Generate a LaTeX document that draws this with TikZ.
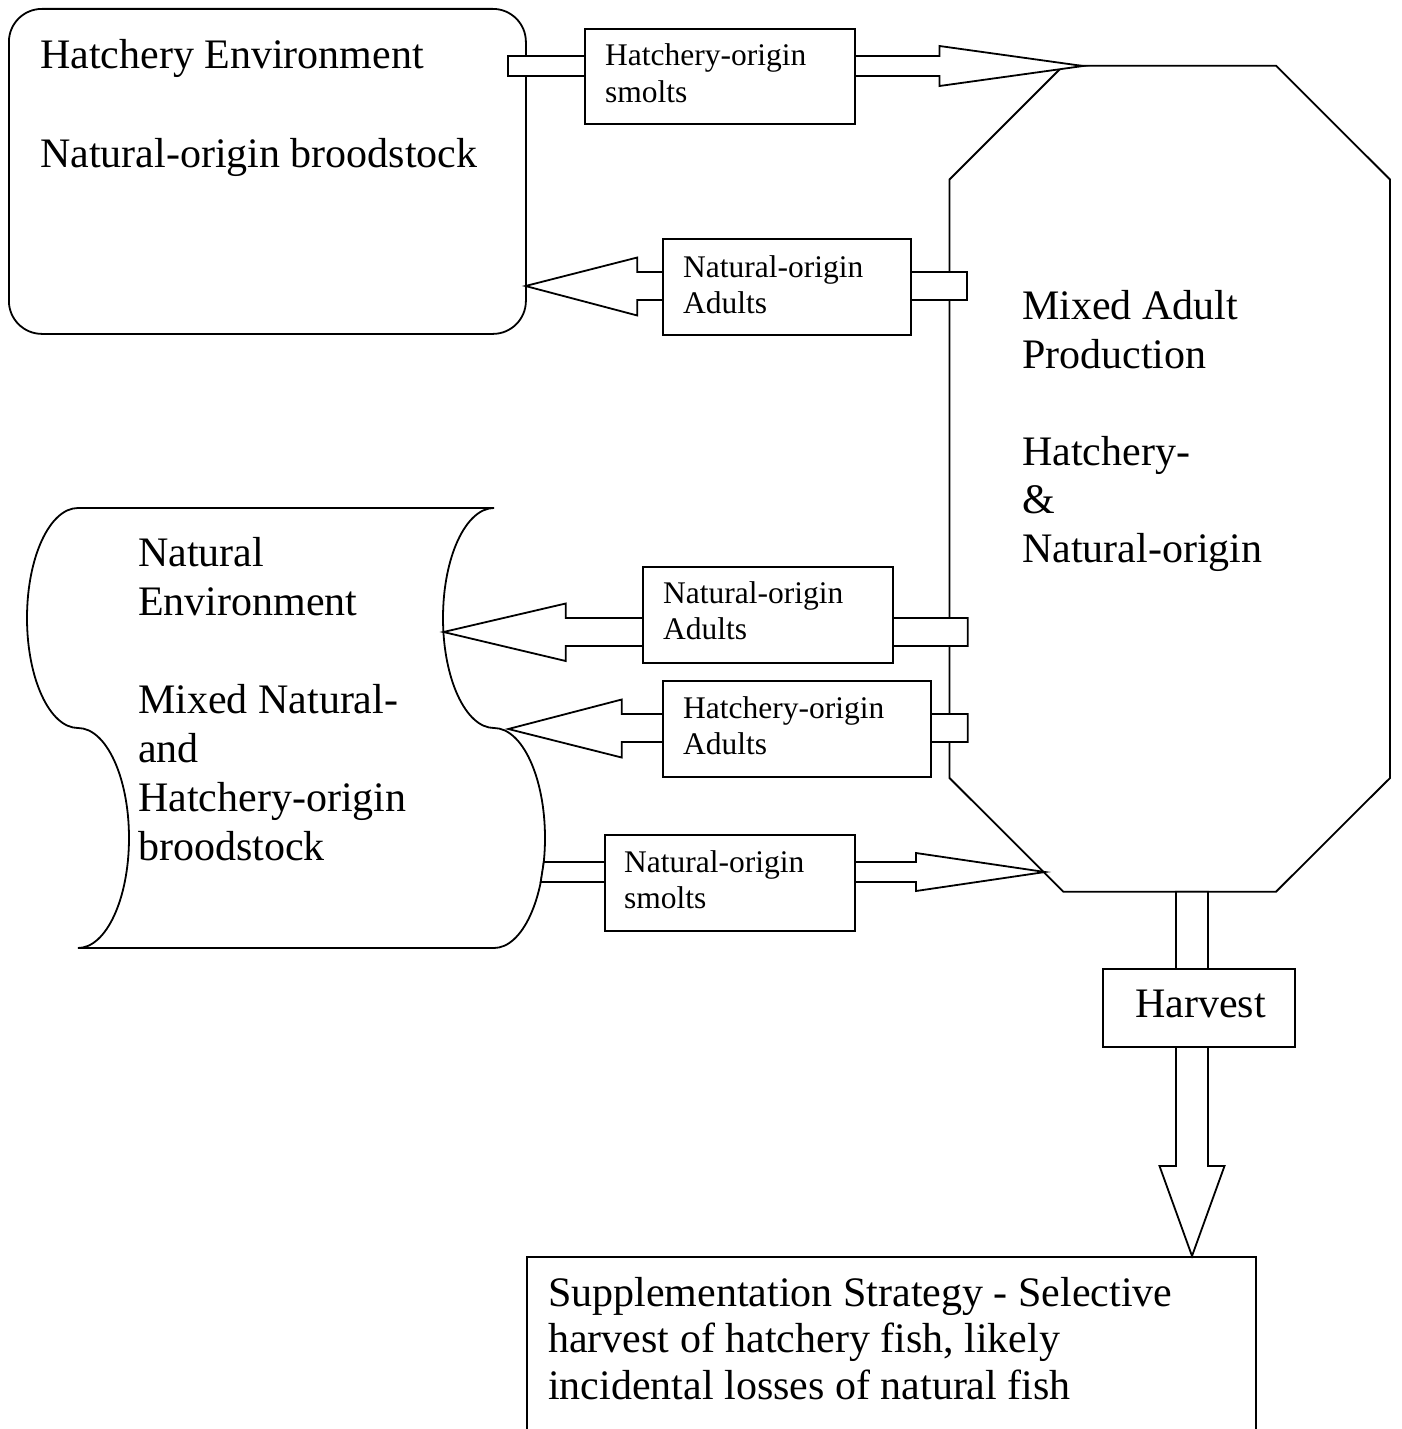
\documentclass[tikz,border=0pt]{standalone}
\usepackage{fontspec}
\setmainfont{Liberation Serif}
\begin{document}
\begin{tikzpicture}[x=1pt,y=-1pt,
  lw/.style={line width=1.8pt},
  shapeline/.style={draw, fill=white, line width=1.8pt, line join=miter},
  blockarrow/.style={draw, fill=white, line width=1.8pt, line join=miter},
  lblbox/.style={draw, fill=white, line width=1.8pt, inner sep=0pt, anchor=north west},
  big/.style={font=\fontsize{42}{48}\selectfont, anchor=base west, inner sep=0pt},
  small/.style={font=\fontsize{31.5}{36}\selectfont, anchor=base west, inner sep=0pt}]
\clip (0,0) rectangle (1401,1429);
\fill[white] (0,0) rectangle (1401,1429);

% ---- main shapes ----
\node[shapeline, rounded corners=33pt, minimum width=517pt, minimum height=325pt,
      inner sep=0pt, anchor=north west] (hatch) at (8,8) {};

\path[shapeline] (78,508) -- (494,508)
  .. controls (465.8,508) and (443,557.25) .. (443,618)
  .. controls (443,678.75) and (465.8,728) .. (494,728)
  .. controls (522.2,728) and (545,777.25) .. (545,838)
  .. controls (545,898.75) and (522.2,948) .. (494,948)
  -- (78,948)
  .. controls (106.2,948) and (129,898.75) .. (129,838)
  .. controls (129,777.25) and (106.2,728) .. (78,728)
  .. controls (49.8,728) and (27,678.75) .. (27,618)
  .. controls (27,557.25) and (49.8,508) .. (78,508) -- cycle;
\coordinate (natR1) at (443.5,632);
\coordinate (natR2) at (508.3,729);

\path[shapeline] (1063.3,65.7) -- (1276,65.7) -- (1390,179.5) -- (1390,778)
  -- (1276,891.7) -- (1063.3,891.7) -- (949.5,778) -- (949.5,179.5) -- cycle;
\coordinate (octTL) at (1083,66);
\coordinate (octBL) at (1045,872);
\coordinate (octB) at (1192,891.7);

\node[lblbox, minimum width=729pt, minimum height=200pt] (supp) at (526,1256) {};

% ---- block arrows ----
% Hatchery-origin smolts
\path[blockarrow] (508,56) -- (939.5,56) -- (939.5,46) -- (octTL) -- (939.5,86)
  -- (939.5,76) -- (508,76) -- cycle;
% Natural-origin adults (upper)
\path[blockarrow] (967,272) -- (637.3,272) -- (637.3,257.5) -- (525.5,286)
  -- (637.3,315.5) -- (637.3,300) -- (967,300) -- cycle;
% Natural-origin adults (lower)
\path[blockarrow] (967.7,618) -- (565.7,618) -- (565.7,603.5) -- (natR1)
  -- (565.7,661) -- (565.7,646) -- (967.7,646) -- cycle;
% Hatchery-origin adults
\path[blockarrow] (967.7,714) -- (621.7,714) -- (621.7,699.5) -- (natR2)
  -- (621.7,757.5) -- (621.7,742) -- (967.7,742) -- cycle;
% Natural-origin smolts
\path[blockarrow] (543.8,862) -- (916,862) -- (916,853) -- (octBL) -- (916,891)
  -- (916,882) -- (540.7,882) -- cycle;
% Harvest
\path[blockarrow] (1176,891.7) -- (1176,1166) -- (1159.5,1166) -- (1192,1256)
  -- (1224.5,1166) -- (1208,1166) -- (1208,891.7) -- cycle;

% ---- label boxes ----
\node[lblbox, minimum width=270pt, minimum height=95pt] (hsm) at (584,28) {};
\node[lblbox, minimum width=248pt, minimum height=96pt] (nadu1) at (662,238) {};
\node[lblbox, minimum width=250pt, minimum height=96pt] (nadu2) at (642,566) {};
\node[lblbox, minimum width=268pt, minimum height=96pt] (hadu) at (662,680) {};
\node[lblbox, minimum width=250pt, minimum height=96pt] (nsm) at (604,834) {};
\node[lblbox, minimum width=192pt, minimum height=78pt] (harv) at (1102,968) {};

% ---- texts ----
\node[big] (t1) at (40,69) {Hatchery Environment};
\node[big] (t2) at (40,167) {Natural-origin broodstock};

\node[big] (t3) at (1022,319.5) {Mixed Adult};
\node[big] (t4) at (1022,368) {Production};
\node[big] (t5) at (1022,465) {Hatchery-};
\node[big] (t6) at (1022,513.5) {\&};
\node[big] (t7) at (1022,562) {Natural-origin};

\node[big] (t8) at (138,566) {Natural};
\node[big] (t9) at (138,615) {Environment};
\node[big] (t10) at (138,713) {Mixed Natural-};
\node[big] (t11) at (138,762) {and};
\node[big] (t12) at (138,811) {Hatchery-origin};
\node[big] (t13) at (138,860) {broodstock};

\node[big] (t14) at (1135,1017) {Harvest};

\node[big] (t15) at (548,1306) {Supplementation Strategy - Selective};
\node[big] (t16) at (548,1352) {harvest of hatchery fish, likely};
\node[big] (t17) at (548,1399) {incidental losses of natural fish};

\node[small] (s1) at (605,66) {Hatchery-origin};
\node[small] (s2) at (605,102) {smolts};
\node[small] (s3) at (683,277) {Natural-origin};
\node[small] (s4) at (683,313) {Adults};
\node[small] (s5) at (663,603) {Natural-origin};
\node[small] (s6) at (663,639) {Adults};
\node[small] (s7) at (683,718) {Hatchery-origin};
\node[small] (s8) at (683,754) {Adults};
\node[small] (s9) at (624,872) {Natural-origin};
\node[small] (s10) at (624,908) {smolts};
\end{tikzpicture}
\end{document}
